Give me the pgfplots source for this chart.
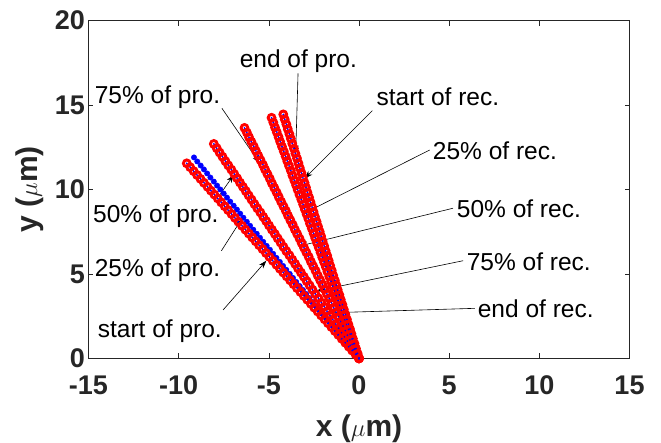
\documentclass[border=0pt]{standalone}
\usepackage{pgfplots}
\pgfplotsset{compat=1.18}
\usepackage{pgfplotstable}
\usepackage{fontspec}
\setmainfont{Liberation Sans}
\usetikzlibrary{arrows.meta}
\definecolor{axgray}{rgb}{0.15,0.15,0.15}

\pgfplotstableread{
x y
0 0
-0.19 0.23
-0.38 0.46
-0.57 0.69
-0.76 0.92
-0.96 1.16
-1.15 1.39
-1.34 1.62
-1.53 1.85
-1.72 2.08
-1.91 2.31
-2.10 2.54
-2.29 2.77
-2.48 3.00
-2.67 3.23
-2.87 3.47
-3.06 3.70
-3.25 3.93
-3.44 4.16
-3.63 4.39
-3.82 4.62
-4.01 4.85
-4.20 5.08
-4.39 5.31
-4.58 5.54
-4.78 5.78
-4.97 6.01
-5.16 6.24
-5.35 6.47
-5.54 6.70
-5.73 6.93
-5.92 7.16
-6.11 7.39
-6.30 7.62
-6.49 7.85
-6.69 8.09
-6.88 8.32
-7.07 8.55
-7.26 8.78
-7.45 9.01
-7.64 9.24
-7.83 9.47
-8.02 9.70
-8.21 9.93
-8.40 10.16
-8.60 10.40
-8.79 10.63
-8.98 10.86
-9.17 11.09
-9.36 11.32
-9.55 11.55
}\lineA

\pgfplotstableread{
x y
0 0
-0.18 0.24
-0.37 0.48
-0.55 0.71
-0.73 0.95
-0.92 1.19
-1.10 1.43
-1.28 1.67
-1.46 1.90
-1.65 2.14
-1.83 2.38
-2.01 2.62
-2.20 2.86
-2.38 3.09
-2.56 3.33
-2.75 3.57
-2.93 3.81
-3.11 4.05
-3.29 4.28
-3.48 4.52
-3.66 4.76
-3.84 5.00
-4.03 5.24
-4.21 5.47
-4.39 5.71
-4.58 5.95
-4.76 6.19
-4.94 6.43
-5.12 6.66
-5.31 6.90
-5.49 7.14
-5.67 7.38
-5.86 7.62
-6.04 7.85
-6.22 8.09
-6.41 8.33
-6.59 8.57
-6.77 8.81
-6.95 9.04
-7.14 9.28
-7.32 9.52
-7.50 9.76
-7.69 10.00
-7.87 10.23
-8.05 10.47
-8.24 10.71
-8.42 10.95
-8.60 11.19
-8.78 11.42
-8.97 11.66
-9.15 11.90
}\lineB

\pgfplotstableread{
x y
0 0
-0.16 0.25
-0.32 0.51
-0.48 0.76
-0.64 1.02
-0.81 1.27
-0.97 1.52
-1.13 1.78
-1.29 2.03
-1.45 2.29
-1.61 2.54
-1.77 2.79
-1.93 3.05
-2.09 3.30
-2.25 3.56
-2.42 3.81
-2.58 4.06
-2.74 4.32
-2.90 4.57
-3.06 4.83
-3.22 5.08
-3.38 5.33
-3.54 5.59
-3.70 5.84
-3.86 6.10
-4.03 6.35
-4.19 6.60
-4.35 6.86
-4.51 7.11
-4.67 7.37
-4.83 7.62
-4.99 7.87
-5.15 8.13
-5.31 8.38
-5.47 8.64
-5.64 8.89
-5.80 9.14
-5.96 9.40
-6.12 9.65
-6.28 9.91
-6.44 10.16
-6.60 10.41
-6.76 10.67
-6.92 10.92
-7.08 11.18
-7.25 11.43
-7.41 11.68
-7.57 11.94
-7.73 12.19
-7.89 12.45
-8.05 12.70
}\lineC

\pgfplotstableread{
x y
0 0
-0.13 0.27
-0.25 0.55
-0.38 0.82
-0.51 1.09
-0.64 1.37
-0.76 1.64
-0.89 1.91
-1.02 2.18
-1.14 2.46
-1.27 2.73
-1.40 3.00
-1.52 3.28
-1.65 3.55
-1.78 3.82
-1.91 4.10
-2.03 4.37
-2.16 4.64
-2.29 4.91
-2.41 5.19
-2.54 5.46
-2.67 5.73
-2.79 6.01
-2.92 6.28
-3.05 6.55
-3.18 6.83
-3.30 7.10
-3.43 7.37
-3.56 7.64
-3.68 7.92
-3.81 8.19
-3.94 8.46
-4.06 8.74
-4.19 9.01
-4.32 9.28
-4.45 9.56
-4.57 9.83
-4.70 10.10
-4.83 10.37
-4.95 10.65
-5.08 10.92
-5.21 11.19
-5.33 11.47
-5.46 11.74
-5.59 12.01
-5.72 12.29
-5.84 12.56
-5.97 12.83
-6.10 13.10
-6.22 13.38
-6.35 13.65
}\lineD

\pgfplotstableread{
x y
0 0
-0.10 0.29
-0.19 0.57
-0.29 0.86
-0.39 1.14
-0.49 1.43
-0.58 1.71
-0.68 2.00
-0.78 2.28
-0.87 2.57
-0.97 2.85
-1.07 3.14
-1.16 3.42
-1.26 3.71
-1.36 3.99
-1.46 4.28
-1.55 4.56
-1.65 4.85
-1.75 5.13
-1.84 5.42
-1.94 5.70
-2.04 5.99
-2.13 6.27
-2.23 6.56
-2.33 6.84
-2.43 7.13
-2.52 7.41
-2.62 7.70
-2.72 7.98
-2.81 8.27
-2.91 8.55
-3.01 8.84
-3.10 9.12
-3.20 9.41
-3.30 9.69
-3.40 9.98
-3.49 10.26
-3.59 10.55
-3.69 10.83
-3.78 11.12
-3.88 11.40
-3.98 11.69
-4.07 11.97
-4.17 12.26
-4.27 12.54
-4.37 12.83
-4.46 13.11
-4.56 13.40
-4.66 13.68
-4.75 13.97
-4.85 14.25
}\lineE

\pgfplotstableread{
x y
0 0
-0.08 0.29
-0.17 0.58
-0.25 0.87
-0.34 1.16
-0.42 1.45
-0.50 1.73
-0.59 2.02
-0.67 2.31
-0.76 2.60
-0.84 2.89
-0.92 3.18
-1.01 3.47
-1.09 3.76
-1.18 4.05
-1.26 4.34
-1.34 4.62
-1.43 4.91
-1.51 5.20
-1.60 5.49
-1.68 5.78
-1.76 6.07
-1.85 6.36
-1.93 6.65
-2.02 6.94
-2.10 7.23
-2.18 7.51
-2.27 7.80
-2.35 8.09
-2.44 8.38
-2.52 8.67
-2.60 8.96
-2.69 9.25
-2.77 9.54
-2.86 9.83
-2.94 10.12
-3.02 10.40
-3.11 10.69
-3.19 10.98
-3.28 11.27
-3.36 11.56
-3.44 11.85
-3.53 12.14
-3.61 12.43
-3.70 12.72
-3.78 13.01
-3.86 13.29
-3.95 13.58
-4.03 13.87
-4.12 14.16
-4.20 14.45
}\lineF

\begin{document}
\begin{tikzpicture}
\begin{axis}[
  at={(0,0)}, anchor=south west,
  scale only axis, width=541pt, height=337.6pt,
  xmin=-15, xmax=15, ymin=0, ymax=20,
  xtick={-15,-10,...,15}, ytick={0,5,...,20},
  tick align=inside, major tick length=5pt,
  axis line style={axgray, line width=0.6pt},
  every tick/.style={axgray, line width=0.6pt},
  /pgf/number format/assume math mode=true,
  ticklabel style={font=\fontsize{27}{30}\selectfont\bfseries, text=axgray},
  xticklabel style={yshift=-14pt},
  xlabel={x ($\mu$m)}, ylabel={y ($\mu$m)},
  label style={font=\fontsize{30}{34}\selectfont\bfseries, text=axgray},
  xlabel style={at={(axis description cs:0.5,-0.233)}, anchor=base},
  ylabel style={at={(axis description cs:-0.095,0.5)}, anchor=base, rotate=0},
  clip=true,
]
\addplot[only marks, mark=*, mark size=2.7pt, blue, mark options={draw=blue, fill=blue}] table {\lineB};
\addplot[only marks, mark=o, mark size=3.4pt, red, mark options={line width=2.9pt}] table {\lineA};
\addplot[only marks, mark=o, mark size=3.4pt, red, mark options={line width=2.9pt}] table {\lineC};
\addplot[only marks, mark=o, mark size=3.4pt, red, mark options={line width=2.9pt}] table {\lineD};
\addplot[only marks, mark=o, mark size=3.4pt, red, mark options={line width=2.9pt}] table {\lineE};
\addplot[only marks, mark=o, mark size=3.4pt, red, mark options={line width=2.9pt}] table {\lineF};
\addplot[only marks, mark=*, mark size=0.6pt, blue] table {\lineA};
\addplot[only marks, mark=*, mark size=0.6pt, blue] table {\lineC};
\addplot[only marks, mark=*, mark size=0.6pt, blue] table {\lineD};
\addplot[only marks, mark=*, mark size=0.6pt, blue] table {\lineE};
\addplot[only marks, mark=*, mark size=0.6pt, blue] table {\lineF};

\tikzset{ann/.style={font=\fontsize{24.5}{29}\selectfont, inner sep=0pt, anchor=base west, text=black},
         arr/.style={draw=black, line width=0.6pt, -{Stealth[length=8pt,width=5.5pt]}}}
\node[ann] at (axis cs:-14.66,15.11) {75\% of pro.};
\node[ann] at (axis cs:-14.75,8.07) {50\% of pro.};
\node[ann] at (axis cs:-14.66,4.83) {25\% of pro.};
\node[ann] at (axis cs:-14.49,1.26) {start of pro.};
\node[ann] at (axis cs:-6.62,17.2) {end of pro.};
\node[ann] at (axis cs:0.965,15.0) {start of rec.};
\node[ann] at (axis cs:4.09,11.75) {25\% of rec.};
\node[ann] at (axis cs:5.42,8.37) {50\% of rec.};
\node[ann] at (axis cs:5.97,5.23) {75\% of rec.};
\node[ann] at (axis cs:6.58,2.43) {end of rec.};

\draw[arr] (axis cs:-7.60,14.81) -- (axis cs:-5.51,11.56);
\draw[arr] (axis cs:-7.76,9.62) -- (axis cs:-6.95,10.86);
\draw[arr] (axis cs:-7.63,6.37) -- (axis cs:-6.52,8.23);
\draw[arr] (axis cs:-7.54,2.86) -- (axis cs:-5.14,5.78);
\draw[arr] (axis cs:-3.38,16.88) -- (axis cs:-3.51,12.14);
\draw[arr] (axis cs:0.74,14.67) -- (axis cs:-3.01,10.66);
\draw[arr] (axis cs:3.92,12.34) -- (axis cs:-3.11,8.55);
\draw[arr] (axis cs:5.21,8.89) -- (axis cs:-3.29,6.65);
\draw[arr] (axis cs:5.77,5.78) -- (axis cs:-2.36,3.99);
\draw[arr] (axis cs:6.42,2.96) -- (axis cs:-2.36,2.67);
\end{axis}
\pgfresetboundingbox
\useasboundingbox (-88.5pt,-84.7pt) rectangle (572.5pt,358.3pt);
\end{tikzpicture}
\end{document}
